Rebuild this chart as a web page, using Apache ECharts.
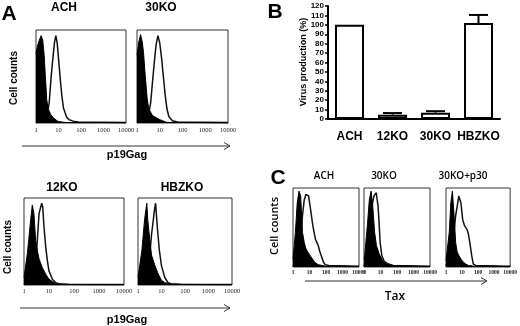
<!DOCTYPE html>
<html><head><meta charset="utf-8">
<script src="https://cdn.jsdelivr.net/npm/echarts/dist/echarts.min.js"></script>
<style>html,body{margin:0;padding:0;background:#fff}#c{width:520px;height:326px}</style>
</head><body><div id="c"></div>
<script>
// ---------- Panel B data ----------
const categories = ['ACH', '12KO', '30KO', 'HBZKO'];
const virusProduction = [100, 4.6, 6.7, 102];
const virusErrorUpper = [null, 6.3, 8.3, 110.5];

// ---------- Panel A histograms (p19Gag, % of max count) ----------
const aAchFillX = [1, 1.1, 1.2, 1.4, 1.55, 1.7, 2.0, 2.3, 2.6, 3.0, 3.5, 4.5, 6, 8, 10, 20, 100, 10000];
const aAchFillY = [74, 80, 84, 89, 90, 94, 89, 73, 51, 25, 15, 9, 5.5, 3, 1.5, 0.6, 0.3, 0.3];
const aAchOpenX = [1, 2, 3.06, 3.87, 4.75, 5.82, 6.66, 7.62, 8.73, 10, 11.9, 14, 16.6, 23.3, 30, 35, 45, 76, 10000];
const aAchOpenY = [0.5, 2, 7, 22, 51, 73, 87, 94, 86, 70, 48, 30, 16, 6, 3.5, 4, 2, 1, 0.5];

const a30FillX = [1, 1.2, 1.44, 1.7, 1.93, 2.3, 2.8, 3.3, 4.8, 10, 20, 10000];
const a30FillY = [73, 87, 95, 87, 76, 51, 26, 15, 8, 3.6, 0.7, 0.3];
const a30OpenX = [1, 2, 3.34, 4.0, 4.8, 5.8, 6.9, 8.3, 10, 12, 14.4, 17.3, 20.8, 25, 36, 60, 10000];
const a30OpenY = [0.5, 2, 11.5, 22, 44, 66, 84, 94, 86, 70, 50, 30, 15, 7, 2.5, 1, 0.5];

const a12FillX = [1, 1.36, 1.85, 2.15, 2.5, 2.93, 3.4, 4.0, 5.4, 7.4, 10, 13.6, 18.5, 40, 10000];
const a12FillY = [8.6, 36, 75, 92, 82, 51, 40, 30, 20, 12.5, 6.6, 4, 1.5, 0.6, 0.3];
const a12OpenX = [1, 2, 3.0, 3.4, 4.0, 4.5, 5.1, 5.6, 6.3, 7.4, 8.6, 10, 13.6, 18.5, 25, 60, 10000];
const a12OpenY = [0.5, 5, 30, 51, 82, 88, 94, 90, 67, 43.6, 28, 16, 6.6, 2.7, 1.5, 0.8, 0.5];

const aHbzFillX = [1, 1.47, 1.9, 2.37, 2.6, 3.3, 3.8, 5.3, 7.3, 10, 13.8, 30, 10000];
const aHbzFillY = [8.6, 40, 75, 94, 75, 47.5, 34, 22, 12.5, 5.4, 2.7, 0.8, 0.3];
const aHbzOpenX = [1, 2.5, 3.3, 3.8, 4.5, 5.0, 5.6, 6.8, 8.1, 10, 13.8, 19, 25, 60, 10000];
const aHbzOpenY = [0.5, 10, 40, 59, 75, 86, 94, 63, 40, 22, 8.6, 2.7, 1.5, 0.8, 0.5];

// ---------- Panel C histograms (Tax) ----------
const cAchFillX = [1, 1.4, 1.8, 2.3, 2.9, 3.75, 4.8, 6.1, 7.8, 12.7, 21, 34, 100, 10000];
const cAchFillY = [10, 44, 81, 96, 90, 44, 31, 23, 19, 12.5, 6, 3, 1, 0.5];
const cAchOpenX = [1, 2.5, 3.75, 4.8, 6.1, 7.1, 8.8, 11.6, 16, 23, 34, 43, 55, 71, 90, 150, 10000];
const cAchOpenY = [0.5, 20, 65, 85, 92, 94, 90, 73, 52, 35, 27, 19, 12.5, 6, 3, 2, 1];

const c30FillX = [1, 1.1, 1.65, 2.1, 2.7, 3.5, 4.4, 5.7, 8.2, 13.5, 22, 60, 10000];
const c30FillY = [10, 14.6, 56, 85, 96, 73, 44, 27, 17, 8, 4, 1.5, 0.5];
const c30OpenX = [1, 2.5, 3.3, 4.0, 5.5, 7.1, 8.2, 9.5, 12, 17, 28, 59, 10000];
const c30OpenY = [0.5, 40, 81, 90, 94, 77, 56, 31, 14.6, 7, 4, 2, 1];

const cP30FillX = [1, 1.1, 1.6, 2.0, 2.5, 3.2, 4.0, 5.0, 6.3, 10, 16, 25, 60, 10000];
const cP30FillY = [8, 10, 44, 81, 96, 65, 31, 19, 14.6, 8, 4, 2, 1, 0.5];
const cP30OpenX = [1, 3, 4.0, 5.0, 6.3, 7.2, 8.5, 11, 14.5, 20, 25, 31.6, 40, 50, 70, 10000];
const cP30OpenY = [0.5, 40, 65, 77, 90, 92, 81, 60, 52, 48, 42, 29, 14.6, 4, 2, 1];

const histograms = [
  [aAchFillX, aAchFillY, aAchOpenX, aAchOpenY],
  [a30FillX, a30FillY, a30OpenX, a30OpenY],
  [a12FillX, a12FillY, a12OpenX, a12OpenY],
  [aHbzFillX, aHbzFillY, aHbzOpenX, aHbzOpenY],
  [cAchFillX, cAchFillY, cAchOpenX, cAchOpenY],
  [c30FillX, c30FillY, c30OpenX, c30OpenY],
  [cP30FillX, cP30FillY, cP30OpenX, cP30OpenY]
];

// ---------- layout (positions only) ----------
const histLayout = [
  {left: 36, top: 30, width: 90, height: 93, fs: 6.5, fw: 'normal', m: 4},
  {left: 137, top: 30, width: 91, height: 93, fs: 6.5, fw: 'normal', m: 4},
  {left: 24, top: 198, width: 100, height: 87, fs: 6.5, fw: 'normal', m: 3},
  {left: 138, top: 198, width: 94, height: 87, fs: 6.5, fw: 'normal', m: 3},
  {left: 293, top: 188, width: 66, height: 79, fs: 5.5, fw: 'bold', m: 3},
  {left: 364, top: 188, width: 66, height: 79, fs: 5.5, fw: 'bold', m: 3},
  {left: 446, top: 188, width: 65, height: 79, fs: 5.5, fw: 'bold', m: 3}
];

const pairs = (xs, ys) => xs.map((x, i) => [x, ys[i]]);
const grid = [], xAxis = [], yAxis = [], series = [];
histLayout.forEach((L, i) => {
  grid.push({left: L.left, top: L.top, width: L.width, height: L.height, show: true,
    borderColor: '#333', borderWidth: 1, backgroundColor: 'transparent'});
  xAxis.push({type: 'log', logBase: 10, gridIndex: i, min: 1, max: 10000, splitNumber: 4,
    axisLine: {show: false}, axisTick: {show: false}, splitLine: {show: false},
    axisLabel: {fontSize: L.fs, fontWeight: L.fw, fontFamily: 'Liberation Serif', color: '#222',
      margin: L.m, showMinLabel: true, showMaxLabel: true, hideOverlap: false,
      formatter: v => String(Math.round(v))}});
  yAxis.push({type: 'value', gridIndex: i, min: 0, max: 100, show: false});
  const h = histograms[i];
  series.push({type: 'line', xAxisIndex: i, yAxisIndex: i, data: pairs(h[2], h[3]),
    symbol: 'none', lineStyle: {color: '#111', width: 1.5}, z: 2, silent: true});
  series.push({type: 'line', xAxisIndex: i, yAxisIndex: i, data: pairs(h[0], h[1]),
    symbol: 'none', lineStyle: {color: '#000', width: 1}, areaStyle: {color: '#000', opacity: 1}, z: 3, silent: true});
});

// Panel B grid
const bi = histLayout.length;
grid.push({left: 328, top: 6, width: 172, height: 113, show: false});
xAxis.push({type: 'category', gridIndex: bi, data: categories,
  axisLine: {lineStyle: {color: '#000', width: 2}}, axisTick: {show: false},
  axisLabel: {interval: 0, fontSize: 12, fontWeight: 'bold', fontFamily: 'Liberation Sans', color: '#000', margin: 12}});
yAxis.push({type: 'value', gridIndex: bi, min: 0, max: 120, interval: 10,
  axisLine: {show: true, lineStyle: {color: '#000', width: 2}},
  axisTick: {show: true, length: 3, lineStyle: {color: '#000', width: 1.5}},
  splitLine: {show: false},
  axisLabel: {fontSize: 8, fontWeight: 'bold', fontFamily: 'Liberation Sans', color: '#000', margin: 4}});
series.push({type: 'bar', xAxisIndex: bi, yAxisIndex: bi, data: virusProduction, barWidth: 29,
  itemStyle: {color: '#fff', borderColor: '#000', borderWidth: 2}, z: 2, silent: true});
series.push({type: 'custom', xAxisIndex: bi, yAxisIndex: bi, z: 4, silent: true,
  data: categories.map((c, i) => [i, virusProduction[i], virusErrorUpper[i]]).filter(d => d[2] != null),
  renderItem: function (params, api) {
    const x = api.value(0);
    const p0 = api.coord([x, api.value(1)]);
    const p1 = api.coord([x, api.value(2)]);
    const hw = 9.5;
    return {type: 'group', children: [
      {type: 'line', shape: {x1: p0[0], y1: p0[1], x2: p1[0], y2: p1[1]}, style: {stroke: '#000', lineWidth: 2}},
      {type: 'line', shape: {x1: p1[0] - hw, y1: p1[1], x2: p1[0] + hw, y2: p1[1]}, style: {stroke: '#000', lineWidth: 2}}
    ]};
  }});

// ---------- texts & arrows ----------
const SANS = 'Liberation Sans';
function txt(t, x, y, fs, fw, rot, ff) {
  return {type: 'text', x: x, y: y, rotation: rot || 0, silent: true,
    style: {text: t, fontSize: fs, fontWeight: fw, fontFamily: ff || SANS, fill: '#000',
      textAlign: 'center', textVerticalAlign: 'middle'}};
}
function arrow(x1, x2, y) {
  return [
    {type: 'line', silent: true, shape: {x1: x1, y1: y, x2: x2, y2: y}, style: {stroke: '#333', lineWidth: 1}},
    {type: 'polyline', silent: true, shape: {points: [[x2 - 6, y - 3.5], [x2, y], [x2 - 6, y + 3.5]]},
      style: {stroke: '#333', lineWidth: 1, fill: null}}
  ];
}
const graphic = [
  txt('A', 9, 14, 21, 'bold'),
  txt('B', 275, 12, 21, 'bold'),
  txt('C', 278, 178, 21, 'bold'),
  txt('ACH', 64, 7.5, 12, 'bold'),
  txt('30KO', 161, 7.5, 12, 'bold'),
  txt('12KO', 62, 187.5, 12, 'bold'),
  txt('HBZKO', 182, 187.5, 12, 'bold'),
  txt('Cell counts', 14, 78, 10, 'bold', Math.PI / 2),
  txt('Cell counts', 8, 247, 10, 'bold', Math.PI / 2),
  txt('p19Gag', 127, 155, 11, 'bold'),
  txt('p19Gag', 127, 320, 11, 'bold'),
  txt('Virus production (%)', 304, 62, 9, 'bold', Math.PI / 2),
  txt('ACH', 324, 176.5, 10, 600, 0, 'Open Sans'),
  txt('30KO', 384, 176.5, 10, 600, 0, 'Open Sans'),
  txt('30KO+p30', 463, 176.5, 10, 600, 0, 'Open Sans'),
  txt('Cell counts', 275, 226, 11, 600, Math.PI / 2, 'Open Sans'),
  txt('Tax', 395, 297, 12, 600, 0, 'Open Sans')
].concat(arrow(22, 230, 146), arrow(20, 230, 308), arrow(305, 487, 281));

const chart = echarts.init(document.getElementById('c'), null, {renderer: 'canvas'});
chart.setOption({animation: false, backgroundColor: '#fff', grid, xAxis, yAxis, series, graphic});
</script></body></html>
